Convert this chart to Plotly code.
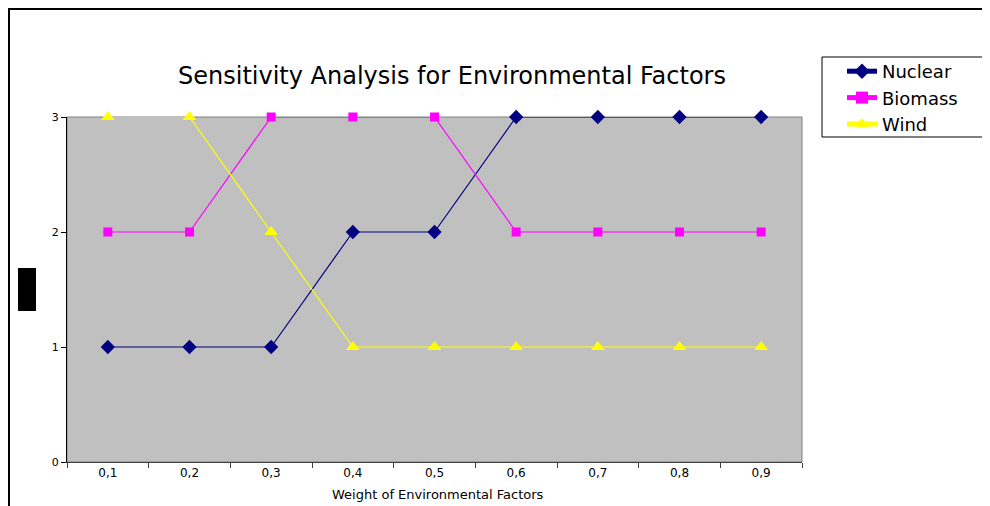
import plotly.graph_objects as go

categories = ["0,1", "0,2", "0,3", "0,4", "0,5", "0,6", "0,7", "0,8", "0,9"]
nuclear = [1, 1, 1, 2, 2, 3, 3, 3, 3]
biomass = [2, 2, 3, 3, 3, 2, 2, 2, 2]
wind = [3, 3, 2, 1, 1, 1, 1, 1, 1]
y_ticks = [0, 1, 2, 3]

OFF = 8  # default page body margin
W, H = 990 - OFF, 506 - OFF
L, R, T, B = 67, 802, 117, 462  # screen pixel positions of plot area
pw, ph = R - L, B - T


def px(x):
    return (x - L) / pw


def py(y):
    return (B - y) / ph


FONT = "DejaVu Sans"

fig = go.Figure()
fig.add_trace(go.Scatter(x=categories, y=nuclear, name="Nuclear", mode="lines+markers",
                         cliponaxis=False,
                         line=dict(color="#000080", width=1.2),
                         marker=dict(symbol="diamond", size=11, color="#000080")))
fig.add_trace(go.Scatter(x=categories, y=biomass, name="Biomass", mode="lines+markers",
                         cliponaxis=False,
                         line=dict(color="#FF00FF", width=1.2),
                         marker=dict(symbol="square", size=9, color="#FF00FF")))
fig.add_trace(go.Scatter(x=categories, y=wind, name="Wind", mode="lines+markers",
                         cliponaxis=False,
                         line=dict(color="#FFFF00", width=1.2),
                         marker=dict(symbol="triangle-up", size=12, color="#FFFF00")))

fig.update_layout(
    width=W, height=H,
    margin=dict(l=L - OFF, r=(W + OFF) - R, t=T - OFF, b=(H + OFF) - B, pad=0),
    paper_bgcolor="white",
    plot_bgcolor="#C0C0C0",
    font=dict(family=FONT, color="black"),
    showlegend=True,
    legend=dict(x=px(842), y=py(53), xanchor="left", yanchor="top",
                borderwidth=0, bgcolor="rgba(0,0,0,0)",
                font=dict(family=FONT, size=18, color="black"),
                tracegroupgap=0, itemsizing="constant"),
    xaxis=dict(type="category", range=[-0.5, 8.5], tickson="boundaries",
               ticks="outside", ticklen=5, tickcolor="#404040",
               showline=True, linecolor="#404040", linewidth=1,
               showgrid=False, zeroline=False,
               tickfont=dict(family=FONT, size=12, color="black")),
    yaxis=dict(range=[0, 3], tickvals=y_ticks, ticks="outside", ticklen=5,
               tickcolor="black", showline=True, linecolor="black", linewidth=1,
               showgrid=False, zeroline=False,
               tickfont=dict(family=FONT, size=11, color="black")),
    shapes=[
        dict(type="rect", xref="paper", yref="paper", x0=0, x1=1, y0=0, y1=1,
             line=dict(color="#808080", width=1), layer="below"),
        dict(type="rect", xref="paper", yref="paper", x0=px(822), x1=px(1000),
             y0=py(137), y1=py(57), line=dict(color="black", width=1)),
        dict(type="rect", xref="paper", yref="paper", x0=px(18), x1=px(36),
             y0=py(311), y1=py(268), fillcolor="black", line=dict(width=0)),
        dict(type="line", xref="paper", yref="paper", x0=px(9), x1=px(9),
             y0=py(8), y1=py(510), line=dict(color="black", width=2)),
        dict(type="line", xref="paper", yref="paper", x0=px(8), x1=px(1000),
             y0=py(9), y1=py(9), line=dict(color="black", width=2)),
    ],
    annotations=[
        dict(text="Sensitivity Analysis for Environmental Factors", xref="paper", yref="paper",
             x=px(452), y=py(76), xanchor="center", yanchor="middle", showarrow=False,
             font=dict(family=FONT, size=24, color="black")),
        dict(text="Weight of Environmental Factors", xref="paper", yref="paper",
             x=px(438), y=py(494), xanchor="center", yanchor="middle", showarrow=False,
             font=dict(family=FONT, size=13, color="black")),
    ],
)

fig.write_html("out.html")
